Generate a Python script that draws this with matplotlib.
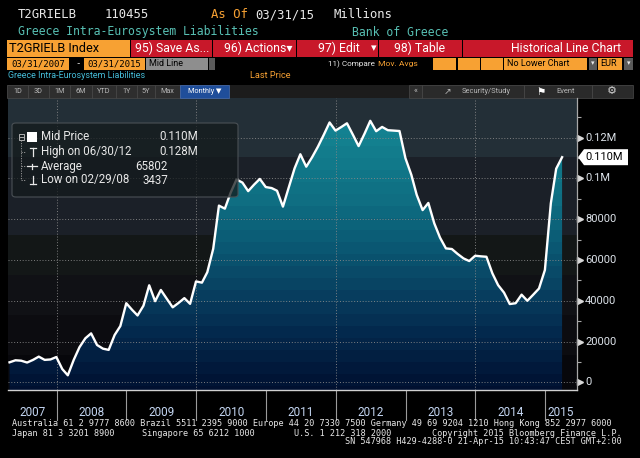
#!/usr/bin/env python3
"""Bloomberg-style chart of Greece intra-Eurosystem liabilities, 2007-2015."""

import datetime as dt

import matplotlib

matplotlib.use("Agg")

import matplotlib.dates as mdates
import matplotlib.pyplot as plt
import numpy as np
import pandas as pd
from matplotlib.lines import Line2D
from matplotlib.patches import FancyBboxPatch, Polygon, Rectangle
from matplotlib.transforms import blended_transform_factory

W, H = 640, 458

# month-end values, EUR millions
MONTHS = pd.date_range("2007-04-30", "2015-03-31", freq="ME")
LIABILITIES = [
    9800, 10800, 10600, 9700, 11000, 12600, 11000, 11200, 12400,
    6500, 3437, 11000, 17200, 21600, 24000, 18300, 16500, 15900, 23200, 27600, 38800,
    35500, 32800, 37600, 47600, 39800, 45300, 41000, 36800, 38900, 41300, 38500, 49500,
    48900, 54000, 65500, 86700, 85200, 93000, 99500, 98000, 93800, 97000, 99800, 95800,
    95300, 94000, 86200, 95500, 105000, 111900, 105800, 110500, 115600, 121500, 127500, 123500,
    125300, 127100, 121500, 115900, 122000, 128300, 123200, 125300, 123700, 123500, 123300, 110000,
    101800, 92000, 84500, 88000, 78000, 71000, 65700, 65400, 63000, 60800, 59500, 62100,
    61800, 61600, 53500, 47700, 44000, 38400, 38800, 43000, 40000, 43000, 46000, 55100,
    87800, 104800, 110455,
]
YEARS = [2007, 2008, 2009, 2010, 2011, 2012, 2013, 2014, 2015]
Y_TICKS = [0, 20000, 40000, 60000, 80000, 100000, 120000]
Y_TICK_LABELS = ["0", "20000", "40000", "60000", "80000", "0.1M", "0.12M"]
Y_MINOR = [10000, 30000, 50000, 70000, 90000, 110000, 130000]
GRID_YEARS = [2008, 2010, 2012, 2014]
LEGEND_NAMES = ["Mid Price", "High on 06/30/12", "Average", "Low on 02/29/08"]
LEGEND_VALUES = ["0.110M", "0.128M", "65802", "3437"]
LAST_LABEL = "0.110M"

ORANGE = "#f7a133"
RED = "#c8182a"
WHITE = "#e8e8e8"
TEAL = "#58c0b4"
CYAN = "#45bcd8"
MONO = "DejaVu Sans Mono"
SANS = ["Roboto", "DejaVu Sans"]

fig = plt.figure(figsize=(W / 100, H / 100), dpi=100, facecolor="black")


def fx(x):
    return x / W


def fy(y):
    return 1 - y / H


def rect(x0, y0, x1, y1, fc, ec="none", lw=0.6, z=1):
    fig.add_artist(Rectangle((fx(x0), fy(y1)), fx(x1) - fx(x0), fy(y0) - fy(y1),
                             transform=fig.transFigure, facecolor=fc, edgecolor=ec,
                             linewidth=lw, zorder=z))


def label(x, y, s, color, size, family=SANS, ha="left", z=6):
    fig.text(fx(x), fy(y), s, color=color, fontsize=size, family=family,
             ha=ha, va="center", zorder=z)


def line(xs, ys, color, lw=0.8, ls="-", z=6):
    fig.add_artist(Line2D([fx(v) for v in xs], [fy(v) for v in ys], color=color,
                          linewidth=lw, linestyle=ls, transform=fig.transFigure, zorder=z))


# ---- header rows ----
label(18, 15, "T2GRIELB", WHITE, 8.8, MONO)
label(105, 15, "110455", WHITE, 8.8, MONO)
label(211, 15, "As Of", ORANGE, 8.8, MONO)
label(255, 15, "03/31/15", WHITE, 8.8, MONO)
label(333, 15, "Millions", WHITE, 8.8, MONO)
label(18, 32, "Greece Intra-Eurosystem Liabilities", TEAL, 8.3, MONO)
label(352, 32, "Bank of Greece", TEAL, 8.3, MONO)

rect(7, 40, 130, 57, ORANGE)
label(9, 48.5, "T2GRIELB Index", "black", 9.2)
for a, b in [(131, 212), (213, 296), (297, 378), (379, 462), (463, 633)]:
    rect(a, 40, b, 57, RED)
label(135, 48.5, "95) Save As...", "white", 8.8)
label(224, 48.5, "96) Actions\u25be", "white", 8.8)
label(318, 48.5, "97) Edit", "white", 8.8)
label(371, 48.5, "\u25be", "white", 8)
label(394, 48.5, "98) Table", "white", 8.8)
label(621, 48.5, "Historical Line Chart", "white", 8.8, ha="right")

rect(7, 58, 69, 70, ORANGE)
label(38, 64, "03/31/2007", "black", 6.5, MONO, ha="center")
label(78, 64, "-", WHITE, 6.5, MONO, ha="center")
rect(84, 58, 145, 70, ORANGE)
label(114.5, 64, "03/31/2015", "black", 6.5, MONO, ha="center")
rect(146, 58, 208, 70, "#8e8e8e")
label(149, 64, "Mid Line", "black", 6.5)
rect(209, 58, 215, 70, "#5a5a5a")
label(328, 64, "11) Compare", WHITE, 5.9)
label(378, 64, "Mov. Avgs", ORANGE, 6.1)
for a, b in [(433, 456), (458, 480), (481, 503)]:
    rect(a, 58, b, 70, ORANGE)
rect(504, 58, 587, 70, ORANGE)
label(507, 64, "No Lower Chart", "black", 6.5)
rect(589, 58, 597, 70, "#5a5a5a")
label(593, 64, "\u25be", WHITE, 5, ha="center")
rect(598, 58, 622, 70, ORANGE)
label(600, 64, "EUR", "black", 6.5)
rect(624, 58, 633, 70, "#5a5a5a")
label(628.5, 64, "\u25be", WHITE, 5, ha="center")

label(8, 76, "Greece Intra-Eurosystem Liabilities", CYAN, 6.4)
label(250, 76, "Last Price", ORANGE, 6.6)

# toolbar
rect(7, 85, 633, 98, "#1c1c1c")
buttons = [("1D", 7, 28), ("3D", 28, 49), ("1M", 49, 70), ("6M", 70, 92), ("YTD", 92, 116),
           ("1Y", 116, 137), ("5Y", 137, 155), ("Max", 155, 180)]
for name, a, b in buttons:
    rect(a, 85, b, 98, "#2e2e2e", ec="#4a4a4a", lw=0.5)
    label((a + b) / 2, 91.5, name, "#b8b8b8", 5.2, ha="center")
rect(180, 85, 229, 98, "#1f4e9a", ec="#4a6fb0", lw=0.5)
label(204.5, 91.5, "Monthly \u25bc", "white", 5.2, ha="center")
rect(409, 85, 422, 98, "#2e2e2e", ec="#4a4a4a", lw=0.5)
label(415.5, 91.5, "\u00ab", "#b8b8b8", 6, ha="center")
rect(422, 85, 524, 98, "#2a2a2a", ec="#4a4a4a", lw=0.5)
label(462, 91.5, "Security/Study", "#b8b8b8", 5.4)
label(447, 91.5, "\u2197", "#b8b8b8", 6.5, ha="center")
rect(524, 85, 592, 98, "#2a2a2a", ec="#4a4a4a", lw=0.5)
label(541, 91.5, "\u2691", "white", 7.5, ha="center")
label(556, 91.5, "Event", "#b8b8b8", 5.4)
rect(592, 85, 633, 98, "#2a2a2a", ec="#4a4a4a", lw=0.5)
label(612, 91.5, "\u2699", "#d0d0d0", 8, ha="center")

# ---- main chart ----
ax_left, ax_right, ax_top, ax_bottom = 8, 577, 98, 390
ax = fig.add_axes([fx(ax_left), fy(ax_bottom), fx(ax_right) - fx(ax_left),
                   fy(ax_top) - fy(ax_bottom)])
ax.set_facecolor("black")
for spine in ax.spines.values():
    spine.set_visible(False)

x0 = mdates.date2num(dt.date(2007, 4, 22))
x1 = mdates.date2num(dt.date(2015, 6, 17))
ylo, yhi = -3780, 139500
extent = [x0, x1, ylo, yhi]
rows = ax_bottom - ax_top

# banded background above the curve
bg_bands = [(0, 59, (35, 47, 55)), (59, 137, (27, 32, 40)), (137, 177, (19, 23, 23)),
            (177, 217, (16, 17, 21)), (217, 257, (12, 12, 16)), (257, rows, (7, 7, 11))]
bg = np.zeros((rows, 1, 3))
for a, b, c in bg_bands:
    bg[a:b, 0, :] = np.array(c) / 255
ax.imshow(bg, extent=extent, aspect="auto", interpolation="nearest", zorder=0)

# banded teal-to-navy gradient under the curve
stops_f = [0.0, 0.15, 0.35, 0.5, 0.65, 0.8, 1.0]
stops_c = np.array([(22, 134, 150), (19, 128, 143), (15, 110, 130), (11, 90, 116),
                    (8, 66, 98), (4, 42, 78), (0, 16, 48)]) / 255
band = (np.arange(rows) // 12 * 12 + 6) / rows
grad = np.stack([np.interp(band, stops_f, stops_c[:, k]) for k in range(3)], axis=1)
grad = grad[:, None, :]
poly = ax.fill_between(MONTHS, LIABILITIES, ylo, facecolor="none", edgecolor="none")
fill_img = ax.imshow(grad, extent=extent, aspect="auto", interpolation="nearest", zorder=1)
fill_img.set_clip_path(poly.get_paths()[0], transform=ax.transData)

for v in Y_TICKS:
    ax.axhline(v, color="#8a8a8a", lw=0.6, ls=(0, (1.2, 2.2)), zorder=2)
for yr in GRID_YEARS:
    ax.axvline(mdates.date2num(dt.date(yr, 1, 1)), color="#8a8a8a", lw=0.6,
               ls=(0, (1.2, 2.2)), zorder=2)

ax.plot(MONTHS, LIABILITIES, color="white", lw=1.7, zorder=4)

ax.set_xlim(x0, x1)
ax.set_ylim(ylo, yhi)
ax.set_xticks([])
ax.set_yticks([])

# right axis
line([ax_right, ax_right], [ax_top, ax_bottom], "#a8a8a8", lw=0.9)
line([ax_left, ax_right], [ax_bottom, ax_bottom], "#d0d0d0", lw=1.0)
yx = blended_transform_factory(ax.transAxes, ax.transData)
aw = ax_right - ax_left
ax.plot([1 + 3 / aw] * len(Y_TICKS), Y_TICKS, ls="none", marker=">", ms=4,
        color="#d8d8d8", transform=yx, clip_on=False)
ax.hlines(Y_MINOR, 1.0, 1 + 4 / aw, color="#a8a8a8", lw=0.8, transform=yx, clip_on=False)
for v, s in zip(Y_TICKS, Y_TICK_LABELS):
    ax.text(1 + 8 / aw, v, s, color="#dde3ea", fontsize=8, family=SANS, va="center",
            ha="left", transform=yx, clip_on=False)

# last value tag
last_y = 382.3 - LIABILITIES[-1] / 1000 * 2.038
tag = [(578, last_y), (584, last_y - 8), (628, last_y - 8), (628, last_y + 8), (584, last_y + 8)]
fig.add_artist(Polygon([(fx(a), fy(b)) for a, b in tag], closed=True, facecolor="white",
                       edgecolor="none", transform=fig.transFigure, zorder=6))
label(585, last_y, LAST_LABEL, "black", 8)

# year ticks and labels below the axis
xa = blended_transform_factory(ax.transData, ax.transAxes)
for yr in YEARS[1:]:
    d = mdates.date2num(dt.date(yr, 1, 1))
    ax.plot([d, d], [0, -30 / rows], color="#9a9a9a", lw=0.8, transform=xa, clip_on=False)
for yr in YEARS:
    a = max(x0, mdates.date2num(dt.date(yr, 1, 1)))
    b = min(x1, mdates.date2num(dt.date(yr + 1, 1, 1)))
    ax.text((a + b) / 2, -22.7 / rows, str(yr), color="#c4d6f2", fontsize=8.5, family=SANS,
            ha="center", va="center", transform=xa, clip_on=False)

# ---- legend box ----
fig.add_artist(FancyBboxPatch((fx(12), fy(197)), fx(238) - fx(12), fy(123) - fy(197),
                              boxstyle="round,pad=0,rounding_size=0.006",
                              facecolor=(0.08, 0.10, 0.11, 0.75), edgecolor="#4a5055",
                              linewidth=0.8, transform=fig.transFigure, zorder=5))
row_y = [137, 151.5, 166, 180]
rect(18.5, 134, 24, 139.5, "none", ec="#c8c8c8", lw=0.6, z=6)
line([19.8, 22.7], [136.75, 136.75], "#c8c8c8", lw=0.6)
line([21.2, 21.2], [139.5, 180], "#a0a0a0", lw=0.6, ls=(0, (1.5, 1.5)))
for ry in row_y[1:]:
    line([21.2, 26], [ry, ry], "#a0a0a0", lw=0.6, ls=(0, (1.5, 1.5)))
rect(27, 131.5, 37, 142.5, "white", z=6)
line([29.5, 35.5], [147.5, 147.5], WHITE, lw=0.9)
line([32.5, 32.5], [147.5, 156], WHITE, lw=0.9)
line([27, 37], [166, 166], WHITE, lw=0.9)
line([32, 32], [163.5, 168.5], WHITE, lw=0.9)
line([32.5, 32.5], [175.5, 184], WHITE, lw=0.9)
line([29.5, 35.5], [184, 184], WHITE, lw=0.9)
for ry, name in zip(row_y, LEGEND_NAMES):
    label(41, ry, name, WHITE, 8.3)
for ry, val, xr in zip(row_y, LEGEND_VALUES, [198, 198, 168, 168]):
    label(xr, ry, val, WHITE, 8.3, ha="right")

# ---- footer ----
FOOT = 6.15
label(12, 424, "Australia 61 2 9777 8600 Brazil 5511 2395 9000 Europe 44 20 7330 7500 "
      "Germany 49 69 9204 1210 Hong Kong 852 2977 6000", WHITE, FOOT, MONO)
label(12, 433, "Japan 81 3 3201 8900", WHITE, FOOT, MONO)
label(142, 433, "Singapore 65 6212 1000", WHITE, FOOT, MONO)
label(294, 433, "U.S. 1 212 318 2000", WHITE, FOOT, MONO)
label(622, 433, "Copyright 2015 Bloomberg Finance L.P.", WHITE, FOOT, MONO, ha="right")
label(622, 442, "SN 547968 H429-4288-0 21-Apr-15 10:43:47 CEST GMT+2:00", WHITE, FOOT,
      MONO, ha="right")

fig.savefig("out.png", dpi=100, facecolor="black")
